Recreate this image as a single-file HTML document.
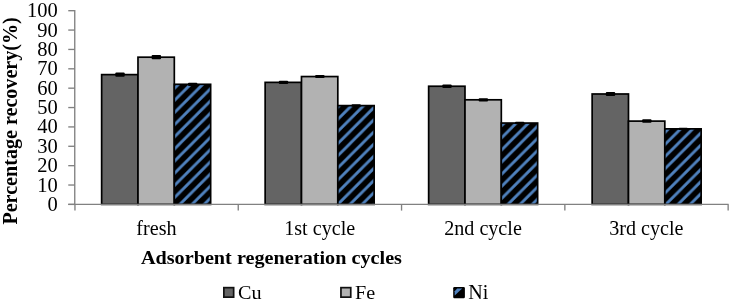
<!DOCTYPE html><html><head><meta charset="utf-8"><style>html,body{margin:0;padding:0;background:#fff;overflow:hidden}svg{display:block;will-change:transform;position:absolute;left:0;top:0}text{font-family:"Liberation Serif",serif;fill:#000}</style></head><body>
<svg width="729" height="305" viewBox="0 0 729 305">
<defs><pattern id="h" width="12.15" height="12.15" patternUnits="userSpaceOnUse"><rect width="12.15" height="12.15" fill="#000"/><path d="M10.60,-3 L-3,10.60 M22.75,-3 L-3,22.75" stroke="#4f81bd" stroke-width="2.9"/></pattern></defs>
<rect width="729" height="305" fill="#fff"/>
<rect x="101.65" y="74.62" width="36.33" height="129.78" fill="#646464" stroke="#000" stroke-width="1.7"/>
<rect x="137.98" y="57.19" width="36.33" height="147.21" fill="#b2b2b2" stroke="#000" stroke-width="1.7"/>
<rect x="174.31" y="84.31" width="36.33" height="120.09" fill="url(#h)" stroke="#000" stroke-width="1.7"/>
<rect x="115.31" y="72.47" width="9.4" height="4.3" rx="1" fill="#000"/>
<rect x="151.65" y="55.09" width="9.4" height="4.2" rx="1" fill="#000"/>
<rect x="187.97" y="82.71" width="9.4" height="3.2" rx="1" fill="#000"/>
<text transform="translate(156.40,234.85) scale(1.012,1)" font-size="19.9" text-anchor="middle">fresh</text>
<rect x="265.15" y="82.37" width="36.33" height="122.03" fill="#646464" stroke="#000" stroke-width="1.7"/>
<rect x="301.48" y="76.56" width="36.33" height="127.84" fill="#b2b2b2" stroke="#000" stroke-width="1.7"/>
<rect x="337.81" y="105.61" width="36.33" height="98.79" fill="url(#h)" stroke="#000" stroke-width="1.7"/>
<rect x="278.81" y="80.82" width="9.4" height="3.1" rx="1" fill="#000"/>
<rect x="315.14" y="75.06" width="9.4" height="3.0" rx="1" fill="#000"/>
<rect x="351.47" y="104.36" width="9.4" height="2.5" rx="1" fill="#000"/>
<text transform="translate(319.70,234.85) scale(1.012,1)" font-size="19.9" text-anchor="middle">1st cycle</text>
<rect x="428.65" y="86.24" width="36.33" height="118.16" fill="#646464" stroke="#000" stroke-width="1.7"/>
<rect x="464.98" y="99.80" width="36.33" height="104.60" fill="#b2b2b2" stroke="#000" stroke-width="1.7"/>
<rect x="501.31" y="123.05" width="36.33" height="81.35" fill="url(#h)" stroke="#000" stroke-width="1.7"/>
<rect x="442.31" y="84.49" width="9.4" height="3.5" rx="1" fill="#000"/>
<rect x="478.64" y="98.20" width="9.4" height="3.2" rx="1" fill="#000"/>
<rect x="514.97" y="121.80" width="9.4" height="2.5" rx="1" fill="#000"/>
<text transform="translate(483.00,234.85) scale(1.012,1)" font-size="19.9" text-anchor="middle">2nd cycle</text>
<rect x="592.15" y="93.99" width="36.33" height="110.41" fill="#646464" stroke="#000" stroke-width="1.7"/>
<rect x="628.48" y="121.11" width="36.33" height="83.29" fill="#b2b2b2" stroke="#000" stroke-width="1.7"/>
<rect x="664.81" y="128.86" width="36.33" height="75.54" fill="url(#h)" stroke="#000" stroke-width="1.7"/>
<rect x="605.81" y="91.99" width="9.4" height="4.0" rx="1" fill="#000"/>
<rect x="642.14" y="119.36" width="9.4" height="3.5" rx="1" fill="#000"/>
<rect x="678.47" y="127.71" width="9.4" height="2.3" rx="1" fill="#000"/>
<text transform="translate(646.30,234.85) scale(1.012,1)" font-size="19.9" text-anchor="middle">3rd cycle</text>
<g stroke="#818181" stroke-width="1.35" fill="none">
<path d="M74.75,10.0 V205.1"/>
<path d="M68.25,204.40 H74.75"/>
<path d="M68.25,185.03 H74.75"/>
<path d="M68.25,165.66 H74.75"/>
<path d="M68.25,146.29 H74.75"/>
<path d="M68.25,126.92 H74.75"/>
<path d="M68.25,107.55 H74.75"/>
<path d="M68.25,88.18 H74.75"/>
<path d="M68.25,68.81 H74.75"/>
<path d="M68.25,49.44 H74.75"/>
<path d="M68.25,30.07 H74.75"/>
<path d="M68.25,10.70 H74.75"/>
<path d="M68.25,204.4 H728.6500000000001"/>
<path d="M74.95,204.4 v6.2"/>
<path d="M238.25,204.4 v6.2"/>
<path d="M401.55,204.4 v6.2"/>
<path d="M564.85,204.4 v6.2"/>
<path d="M728.15,204.4 v6.2"/>
</g>
<text transform="translate(57.80,210.90) scale(1.025,1)" font-size="20" text-anchor="end">0</text>
<text transform="translate(57.80,191.53) scale(1.025,1)" font-size="20" text-anchor="end">10</text>
<text transform="translate(57.80,172.16) scale(1.025,1)" font-size="20" text-anchor="end">20</text>
<text transform="translate(57.80,152.79) scale(1.025,1)" font-size="20" text-anchor="end">30</text>
<text transform="translate(57.80,133.42) scale(1.025,1)" font-size="20" text-anchor="end">40</text>
<text transform="translate(57.80,114.05) scale(1.025,1)" font-size="20" text-anchor="end">50</text>
<text transform="translate(57.80,94.68) scale(1.025,1)" font-size="20" text-anchor="end">60</text>
<text transform="translate(57.80,75.31) scale(1.025,1)" font-size="20" text-anchor="end">70</text>
<text transform="translate(57.80,55.94) scale(1.025,1)" font-size="20" text-anchor="end">80</text>
<text transform="translate(57.80,36.57) scale(1.025,1)" font-size="20" text-anchor="end">90</text>
<text transform="translate(57.80,17.20) scale(1.025,1)" font-size="20" text-anchor="end">100</text>
<text transform="translate(271.45,264.00) scale(1.047,1)" font-size="19.3" text-anchor="middle" font-weight="bold">Adsorbent regeneration cycles</text>
<text transform="translate(17.00,120.90) rotate(-90) scale(1.005,1)" font-size="20" text-anchor="middle" font-weight="bold">Percentage recovery(%)</text>
<rect x="223.85" y="287.65000000000003" width="9.8" height="9.5" fill="#646464" stroke="#111" stroke-width="1.7"/>
<text transform="translate(238.00,299.00) scale(1.02,1)" font-size="19.8" text-anchor="start">Cu</text>
<rect x="340.95000000000005" y="287.65000000000003" width="9.8" height="9.5" fill="#b2b2b2" stroke="#111" stroke-width="1.7"/>
<text transform="translate(355.10,299.00) scale(1.02,1)" font-size="19.8" text-anchor="start">Fe</text>
<rect x="453.2" y="287.0" width="11.7" height="11.2" rx="1.2" fill="#000"/>
<path d="M454.7,291.20000000000005 L457.2,288.6 L462.2,288.6 L454.7,295.40000000000003 Z" fill="#4f81bd"/>
<text transform="translate(468.30,299.00) scale(1.01,1)" font-size="19.9" text-anchor="start">Ni</text>
</svg></body></html>
